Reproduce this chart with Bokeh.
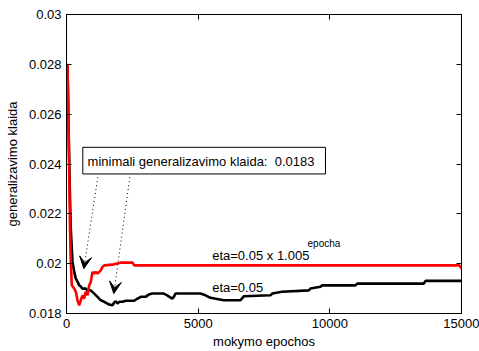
from bokeh.plotting import figure
from bokeh.models import (LinearAxis, FixedTicker, Label, BoxAnnotation, Arrow,
                          VeeHead, Range1d)
from bokeh.embed import file_html
from bokeh.resources import INLINE

# ---- data ----
red_epoch = [0, 38, 76, 103, 133, 163, 201, 292, 353, 418, 482, 543, 608, 672,
             733, 797, 862, 923, 987, 1052, 1113, 1177, 1242, 1303, 1367, 1432,
             1747, 1872, 2062, 2506, 2571, 14924, 15000]
red_err = [0.0280, 0.02796, 0.0258, 0.0236, 0.0214, 0.02008, 0.01913, 0.0190,
           0.01888, 0.01853, 0.01833, 0.01853, 0.01873, 0.0186, 0.01888,
           0.01873, 0.01913, 0.01927, 0.01967, 0.0196, 0.01967, 0.0196,
           0.01967, 0.01973, 0.01987, 0.01993, 0.01996, 0.0200, 0.02004,
           0.02004, 0.01993, 0.01993, 0.0198]

black_epoch = [0, 38, 95, 133, 163, 228, 292, 353, 418, 482, 543, 608, 733, 797,
               923, 1052, 1177, 1303, 1432, 1557, 1622, 1747, 1811, 1872, 1937,
               2001, 2127, 2252, 2571, 2696, 2822, 3000, 3125, 3254, 3695, 3824,
               4014, 4075, 4139, 5089, 5278, 5468, 5973, 6608, 6733, 7747, 7811,
               8191, 9201, 9266, 9646, 9710, 10975, 11039, 13569, 13633, 15000]
black_err = [0.0280, 0.0279, 0.0246, 0.0226, 0.0214, 0.02008, 0.01968, 0.0194,
             0.01928, 0.01913, 0.01908, 0.0190, 0.0190, 0.01893, 0.01893,
             0.0188, 0.01867, 0.01853, 0.01847, 0.0184, 0.01836, 0.01833,
             0.01844, 0.01849, 0.0184, 0.01847, 0.01847, 0.01851, 0.01851,
             0.0186, 0.01867, 0.01867, 0.01876, 0.0188, 0.0188, 0.01873,
             0.0186, 0.01867, 0.0188, 0.0188, 0.01873, 0.01863, 0.01853,
             0.01853, 0.01869, 0.01873, 0.0188, 0.01887, 0.01893, 0.0190,
             0.01907, 0.01913, 0.01913, 0.0192, 0.0192, 0.01931, 0.01931]

x_ticks = [0, 5000, 10000, 15000]
y_ticks = [0.018, 0.020, 0.022, 0.024, 0.026, 0.028, 0.030]
y_tick_labels = ["0.018", "0.02", "0.022", "0.024", "0.026", "0.028", "0.03"]

min_text = "minimali generalizavimo klaida:\u00a0 0.0183"
label_variable = "eta=0.05 x 1.005"
label_variable_sup = "epocha"
label_const = "eta=0.05"

FONT = "Liberation Sans"
FS = "13px"

p = figure(width=479, height=351, output_backend="svg", toolbar_location=None,
           x_range=Range1d(0, 15000), y_range=Range1d(0.018, 0.030),
           min_border_left=66, min_border_right=18, min_border_top=14,
           min_border_bottom=36, x_axis_label="mokymo epochos",
           y_axis_label="generalizavimo klaida")
p.background_fill_color = "white"
p.border_fill_color = "white"
p.outline_line_color = "black"
p.outline_line_width = 1
p.xgrid.visible = False
p.ygrid.visible = False

def style_axis(ax):
    ax.axis_line_color = "black"
    ax.major_tick_in = 5
    ax.major_tick_out = 0
    ax.minor_tick_line_color = None
    ax.major_tick_line_color = "black"
    ax.major_label_text_font = FONT
    ax.major_label_text_font_size = FS
    ax.major_label_text_color = "black"
    ax.axis_label_text_font = FONT
    ax.axis_label_text_font_size = FS
    ax.axis_label_text_font_style = "normal"
    ax.axis_label_text_color = "black"

xa = p.xaxis[0]
ya = p.yaxis[0]
xa.ticker = FixedTicker(ticks=x_ticks)
ya.ticker = FixedTicker(ticks=y_ticks)
ya.major_label_overrides = {t: s for t, s in zip(y_ticks, y_tick_labels)}
style_axis(xa)
style_axis(ya)
xa.major_label_standoff = 5
xa.axis_label_standoff = 3
ya.major_label_standoff = 5
ya.axis_label_standoff = 6

top = LinearAxis(ticker=FixedTicker(ticks=x_ticks))
right = LinearAxis(ticker=FixedTicker(ticks=y_ticks))
for ax, ticks in ((top, x_ticks), (right, y_ticks)):
    style_axis(ax)
    ax.major_label_overrides = {t: "" for t in ticks}
    ax.major_label_standoff = 0
p.add_layout(top, "above")
p.add_layout(right, "right")

p.line(black_epoch, black_err, line_color="black", line_width=2.6)
p.line(red_epoch, red_err, line_color="red", line_width=2.6)

# annotation box
p.add_layout(BoxAnnotation(left=619, right=9835, bottom=0.0236, top=0.02467,
                           fill_color="white", fill_alpha=1.0,
                           line_color="black", line_width=1, line_alpha=1.0))
p.add_layout(Label(x=800, y=0.02412, text=min_text, text_font=FONT,
                   text_font_size=FS, text_baseline="middle",
                   text_color="black"))

# arrows
for (x0, y0, x1, y1) in [(1189, 0.02347, 657, 0.0198),
                         (2404, 0.02347, 1796, 0.0188)]:
    p.add_layout(Arrow(x_start=x0, y_start=y0, x_end=x1, y_end=y1,
                       line_color="black", line_width=1, line_dash="1 3",
                       end=VeeHead(size=12, fill_color="black",
                                   line_color="black", line_width=1)))

# curve labels
p.add_layout(Label(x=5533, y=0.02032, text=label_variable, text_font=FONT,
                   text_font_size=FS, text_baseline="middle", text_color="black"))
p.add_layout(Label(x=9152, y=0.02080, text=label_variable_sup, text_font=FONT,
                   text_font_size="10px", text_baseline="middle",
                   text_color="black"))
p.add_layout(Label(x=5533, y=0.01905, text=label_const, text_font=FONT,
                   text_font_size=FS, text_baseline="middle", text_color="black"))

open("out.html", "w").write(file_html(p, INLINE))
